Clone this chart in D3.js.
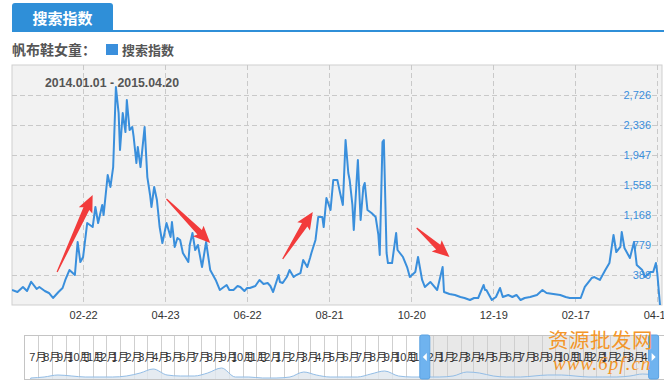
<!DOCTYPE html>
<html><head><meta charset="utf-8">
<script src="https://cdn.jsdelivr.net/npm/d3@7"></script>
<style>
body{margin:0;background:#fff;}
svg{display:block;font-family:"Liberation Sans",Arial,"Noto Sans CJK SC",sans-serif;}
</style></head><body>
<svg id="c" width="664" height="383"></svg>
<script>
// ---------------- data ----------------
const startDate = "2014-01-01";
const endDate = "2015-04-20";
const dayIndex = [0,4,8,11,14,18,20,24,27,30,34,37,39,42,46,48,50,52,55,59,61,63,66,67,70,72,74,76,78,79,81,83,84,86,88,89,91,92,94,97,99,101,102,104,106,108,110,112,113,116,117,119,121,123,125,129,130,132,134,136,139,142,145,147,149,152,155,157,159,162,165,167,170,172,174,178,181,184,187,189,191,195,196,198,201,203,206,208,211,213,216,218,219,222,224,227,228,230,233,235,238,240,242,244,246,247,249,250,252,253,255,257,258,260,263,266,268,269,271,272,274,275,278,281,282,286,289,291,295,297,300,302,306,311,315,316,320,324,328,331,335,338,341,345,346,347,351,354,357,359,363,366,369,372,375,379,384,388,391,396,401,405,408,412,416,419,423,424,426,430,434,437,440,442,445,446,448,452,455,457,461,463,467,469,471,472,474];
const searchValues = [195,169,234,182,302,208,234,182,156,91,169,221,325,454,389,818,558,623,1064,1012,1272,1064,1298,1168,1687,1532,1791,2830,2492,2012,2492,2245,2661,2272,2310,2181,1843,2051,1791,2310,1661,1428,1272,1532,1363,1012,805,974,1064,883,1077,753,870,844,675,558,779,935,714,779,493,818,454,389,325,195,234,260,195,195,247,234,182,221,221,247,325,273,286,247,169,389,299,286,363,454,363,389,415,584,493,610,675,844,1142,1142,1012,1389,1233,1623,1623,1454,1298,2142,1713,1623,1298,974,1584,1882,1103,1532,1584,1233,1194,1142,909,649,2116,2142,675,545,545,935,714,623,493,363,428,623,325,234,299,195,493,169,143,130,104,91,65,91,91,260,195,195,65,104,221,104,130,104,130,65,91,104,130,195,156,143,130,104,91,91,91,234,325,350,363,325,454,545,909,688,753,948,740,610,818,519,454,363,428,428,545,415,0];
const yMax = 3115.4;
const yTickValues = [389.4, 778.9, 1168.3, 1557.7, 1947.2, 2336.3, 2726];
const xTickDates = ["2014-02-22","2014-04-23","2014-06-22","2014-08-21","2014-10-20","2014-12-19","2015-02-17","2015-04-18"];
const seriesName = "搜索指数";
const keyword = "帆布鞋女童：";
const tabTitle = "搜索指数";
const rangeLabel = "2014.01.01 - 2015.04.20";
// annotation arrows in data space: [tailDay, tailValue, tipDay, tipValue]
const arrows = [[33,428,59,1428],[113,1376,145,805],[198,597,220,1207],[296,999,320,623]];
// navigator (overview) series, monthly
const navMonths = ["2011-06","2011-07","2011-08","2011-09","2011-10","2011-11","2011-12","2012-01","2012-02","2012-03","2012-04","2012-05","2012-06","2012-07","2012-08","2012-09","2012-10","2012-11","2012-12","2013-01","2013-02","2013-03","2013-04","2013-05","2013-06","2013-07","2013-08","2013-09","2013-10","2013-11","2013-12","2014-01","2014-02","2014-03","2014-04","2014-05","2014-06","2014-07","2014-08","2014-09","2014-10","2014-11","2014-12","2015-01","2015-02","2015-03","2015-04"];
const navValues = [400,800,1600,1200,800,800,800,1200,2400,4000,1600,1200,1200,2400,4400,800,800,400,400,800,2800,1600,800,800,800,2000,3200,1200,800,800,800,1200,2800,2400,1200,800,800,1200,1600,1600,1200,800,800,800,1200,2000,1600];
const navDomain = ["2011-05-31","2015-05-02"];
const navSelection = ["2013-11-24","2015-04-20"];
const navMax = 17600;

// ---------------- drawing ----------------
const svg = d3.select("#c");
const parse = d3.timeParse("%Y-%m-%d");
const parseM = d3.timeParse("%Y-%m");
const blue = "#2f8fd8";
const lineBlue = "#3a8fdc";
const t0 = parse(startDate);
const dates = dayIndex.map(d => d3.timeDay.offset(t0, d));
const data = dates.map((d,i)=>({d, v: searchValues[i]}));

const P = {l:12, r:662, t:65, b:305};
const x = d3.scaleTime().domain([t0, parse(endDate)]).range([12, 660]);
const y = d3.scaleLinear().domain([0, yMax]).range([P.b, P.t]);

// tab header
svg.append("path")
  .attr("d", `M12,31 L12,6 Q12,3 15,3 L110,3 Q113,3 113,6 L113,31 Z`)
  .attr("fill", blue);
svg.append("rect").attr("x",12).attr("y",30).attr("width",652).attr("height",2).attr("fill",blue);
svg.append("text").attr("x",62.5).attr("y",24).attr("text-anchor","middle")
  .attr("font-family","Noto Sans CJK SC").attr("font-weight","bold").attr("font-size",15)
  .attr("fill","#fff").text(tabTitle);

// legend
svg.append("text").attr("x",12).attr("y",55)
  .attr("font-family","Noto Sans CJK SC").attr("font-weight","bold").attr("font-size",14)
  .attr("fill","#555").text(keyword);
svg.append("rect").attr("x",106).attr("y",44).attr("width",12).attr("height",11).attr("fill",lineBlue);
svg.append("text").attr("x",122).attr("y",55)
  .attr("font-family","Noto Sans CJK SC").attr("font-weight","bold").attr("font-size",13)
  .attr("fill","#555").text(seriesName);

// plot background
svg.append("rect").attr("x",P.l).attr("y",P.t).attr("width",P.r-P.l).attr("height",P.b-P.t)
  .attr("fill","#f2f2f2").attr("stroke","#cfcfcf");

// grid
const grid = svg.append("g").attr("stroke","#c9c9c9").attr("stroke-dasharray","5,3").attr("stroke-width",1);
grid.selectAll(".hy").data(yTickValues).join("line")
  .attr("x1",P.l).attr("x2",P.r)
  .attr("y1",d=>Math.round(y(d))+0.5).attr("y2",d=>Math.round(y(d))+0.5);
const xTicks = xTickDates.map(parse);
grid.selectAll(".vx").data(xTicks).join("line")
  .attr("y1",P.t).attr("y2",P.b)
  .attr("x1",d=>Math.round(x(d))+0.5).attr("x2",d=>Math.round(x(d))+0.5);

// date range label
svg.append("text").attr("x",45).attr("y",87).attr("font-weight","bold").attr("font-size",12.3)
  .attr("fill","#555").text(rangeLabel);

// line
svg.append("clipPath").attr("id","pc").append("rect")
  .attr("x",P.l).attr("y",P.t).attr("width",P.r-P.l).attr("height",P.b-P.t+2);
svg.append("path").datum(data)
  .attr("clip-path","url(#pc)")
  .attr("fill","none").attr("stroke",lineBlue).attr("stroke-width",2).attr("stroke-linejoin","round")
  .attr("d", d3.line().x(d=>x(d.d)).y(d=>y(d.v)));

// y labels (inside, right)
const yAxis = svg.append("g").attr("transform",`translate(651,0)`)
  .call(d3.axisLeft(y).tickValues(yTickValues).tickFormat(d3.format(",.0f")).tickSize(0).tickPadding(0));
yAxis.select(".domain").remove();
yAxis.selectAll("text").attr("fill","#3a8fdc").attr("font-size",11).attr("font-family","Liberation Sans");

// x labels
const xAxis = svg.append("g").attr("transform",`translate(0,${P.b})`)
  .call(d3.axisBottom(x).tickValues(xTicks).tickFormat(d3.timeFormat("%m-%d")).tickSize(0).tickPadding(6));
xAxis.select(".domain").remove();
xAxis.selectAll("text").attr("fill","#333").attr("font-size",11).attr("font-family","Liberation Sans");

// arrows
function arrowPath(x1,y1,x2,y2){
  const dx=x2-x1, dy=y2-y1, L=Math.hypot(dx,dy), ux=dx/L, uy=dy/L, px=-uy, py=ux;
  const hl=15, hw=7.5, sw=3.2, tw=0.6;
  const pt=(a,b)=>[x1+ux*a+px*b, y1+uy*a+py*b];
  const pts=[pt(0,-tw),pt(L-hl,-sw),pt(L-hl-2,-hw),pt(L,0),pt(L-hl-2,hw),pt(L-hl,sw),pt(0,tw)];
  return "M"+pts.map(p=>p.join(",")).join("L")+"Z";
}
svg.append("g").selectAll("path").data(arrows).join("path")
  .attr("fill","#f23b3b")
  .attr("d",a=>arrowPath(x(d3.timeDay.offset(t0,a[0])),y(a[1]),x(d3.timeDay.offset(t0,a[2])),y(a[3])));

// ---------------- navigator ----------------
const N = {l:24, r:664, t:335, b:380};
const nx = d3.scaleTime().domain(navDomain.map(parse)).range([N.l, N.r]);
const ny = d3.scaleLinear().domain([0, navMax]).range([N.b-1, N.t]);
svg.append("clipPath").attr("id","nc").append("rect").attr("x",N.l).attr("y",N.t).attr("width",N.r-N.l).attr("height",N.b-N.t);
const nav = svg.append("g").attr("clip-path","url(#nc)");
nav.append("rect").attr("x",N.l).attr("y",N.t).attr("width",N.r-N.l).attr("height",N.b-N.t).attr("fill","#fff");
const s0 = nx(parse(navSelection[0])), s1 = nx(parse(navSelection[1]));
nav.append("rect").attr("x",s0).attr("y",N.t).attr("width",s1-s0).attr("height",N.b-N.t).attr("fill","#e8e8e8");
const months = d3.timeMonth.range(parseM("2011-07"), parseM("2015-05"));
nav.selectAll(".ml").data(months).join("line")
  .attr("x1",d=>Math.round(nx(d))+0.5).attr("x2",d=>Math.round(nx(d))+0.5)
  .attr("y1",N.t).attr("y2",N.b).attr("stroke","#cfcfcf");
const navData = navMonths.map((m,i)=>({d: d3.timeDay.offset(parseM(m),14), v: navValues[i]}));
nav.append("path").datum(navData)
  .attr("fill","#dfe6ee").attr("fill-opacity",0.8)
  .attr("stroke","#93bde6").attr("stroke-width",1)
  .attr("d", d3.area().curve(d3.curveMonotoneX).x(d=>nx(d.d)).y0(N.b).y1(d=>ny(d.v)));
nav.selectAll(".mt").data(months).join("text")
  .attr("x",d=>nx(d)).attr("y",361).attr("text-anchor","middle")
  .attr("font-size",11).attr("fill","#333")
  .text(d=>(d.getMonth()+1)+"月");
svg.append("rect").attr("x",N.l+0.5).attr("y",N.t+0.5).attr("width",N.r-N.l).attr("height",N.b-N.t-1)
  .attr("fill","none").attr("stroke","#c4c4c4");
// handles
[s0, s1].forEach((sx,i)=>{
  const g = svg.append("g").attr("transform",`translate(${sx},0)`);
  g.append("rect").attr("x",-10).attr("y",N.t).attr("width",10).attr("height",N.b-N.t-1).attr("rx",2)
    .attr("fill","#6fb3ef").attr("stroke","#5aa2e2");
  const c = 357;
  g.append("path").attr("fill","#fff")
    .attr("d", i===0 ? `M-3,${c-4} L-7,${c} L-3,${c+4}Z` : `M-7,${c-4} L-3,${c} L-7,${c+4}Z`);
});

// watermark
const wm = svg.append("g").attr("fill","#f3962a");
wm.append("text").attr("x",548).attr("y",348).attr("font-family","Noto Sans CJK SC")
  .attr("font-size",20.5).attr("letter-spacing",0.5).text("资源批发网");
wm.append("text").attr("x",553).attr("y",370).attr("font-family","Liberation Serif")
  .attr("font-style","italic").attr("font-size",19).attr("letter-spacing",1).text("www.6pf.cn");
</script>
</body></html>
